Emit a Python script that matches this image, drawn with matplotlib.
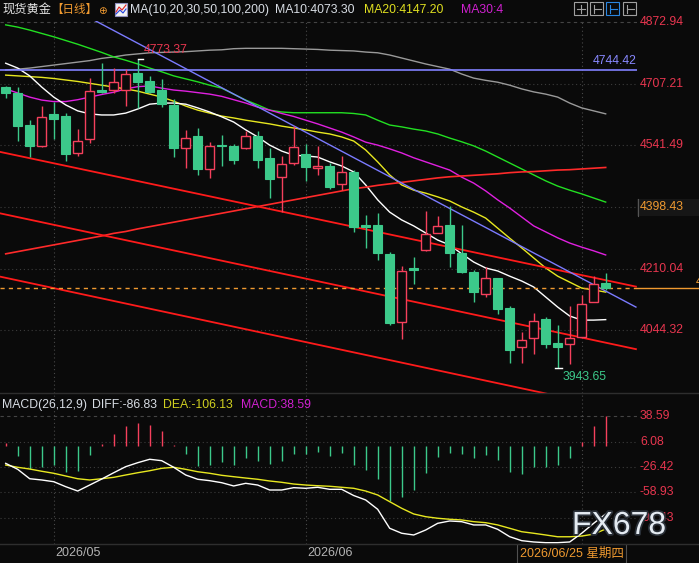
import matplotlib
matplotlib.use('Agg')
import matplotlib.pyplot as plt
from matplotlib.patches import Rectangle
from matplotlib.lines import Line2D
import matplotlib.patheffects as pe
from matplotlib.transforms import blended_transform_factory

plt.rcParams['font.family'] = ['Liberation Sans', 'Noto Sans CJK SC', 'DejaVu Sans']

# daily candles (index 0..50)
opens = [4699, 4682, 4596, 4540, 4626, 4620, 4520, 4558, 4690, 4690,
         4690, 4735, 4714, 4690, 4650, 4533, 4566, 4477, 4541, 4540,
         4533, 4566, 4507, 4457, 4495, 4518, 4481, 4486, 4437, 4470,
         4327, 4327, 4250, 4066, 4212, 4260, 4307, 4327, 4251, 4200,
         4141, 4185, 4104, 3999, 4023, 4075, 4010, 4007, 4027, 4120, 4172]
highs = [4701, 4699, 4609, 4647, 4659, 4627, 4585, 4721, 4762, 4748,
         4746, 4773.37, 4728, 4719, 4665, 4583, 4587, 4550, 4568, 4545,
         4580, 4580, 4533, 4514, 4594, 4545, 4540, 4493, 4514, 4475,
         4354, 4359, 4256, 4217, 4241, 4365, 4352, 4378, 4327, 4207,
         4215, 4186, 4110, 4040, 4092, 4081, 4058, 4110, 4139, 4190, 4199]
lows = [4668, 4554, 4511, 4538, 4558, 4500, 4514, 4547, 4682, 4681,
        4648, 4642, 4681, 4645, 4511, 4480, 4462, 4453, 4487, 4491,
        4532, 4481, 4401, 4363, 4488, 4446, 4462, 4425, 4421, 4309,
        4266, 4233, 4060, 4020, 4168, 4258, 4305, 4215, 4199, 4121,
        4135, 4088, 3956, 3958, 3980, 3998, 3943.65, 3955, 4027, 4120, 4153]
closes = [4681, 4594, 4540, 4617, 4613, 4519, 4553, 4687, 4685, 4711,
          4732, 4712, 4684, 4652, 4535, 4560, 4478, 4539, 4540, 4502,
          4566, 4502, 4452, 4490, 4536, 4482, 4485, 4430, 4469, 4323,
          4323, 4253, 4063, 4204, 4207, 4303, 4325, 4253, 4202, 4148,
          4184, 4103, 3992, 4018, 4070, 4009, 4000, 4024, 4114, 4168, 4157]

ma10 = [4762, 4749, 4728, 4698, 4671, 4650, 4634, 4626, 4623, 4623,
        4628, 4639, 4652, 4655, 4655, 4652, 4642, 4631, 4618, 4604,
        4583, 4564, 4542, 4526, 4515, 4513, 4510, 4497, 4486, 4470,
        4435, 4395, 4362, 4341, 4325, 4306, 4287, 4274, 4250, 4228,
        4212, 4204, 4190, 4177, 4161, 4134, 4107, 4083, 4072, 4072, 4073.3]
ma20 = [4730, 4728, 4726, 4724, 4721, 4717, 4713, 4708, 4703, 4698,
        4693, 4687, 4679, 4671, 4660, 4647, 4636, 4628, 4620, 4615,
        4609, 4604, 4599, 4593, 4588, 4583, 4577, 4572, 4564, 4553,
        4529, 4497, 4462, 4435, 4421, 4413, 4403, 4392, 4376, 4362,
        4346, 4319, 4292, 4266, 4239, 4212, 4190, 4174, 4158, 4153, 4147.2]
ma30 = [4693, 4682, 4671, 4663, 4659, 4659, 4664, 4671, 4678, 4684,
        4693, 4699, 4701, 4695, 4690, 4687, 4683, 4679, 4673, 4664,
        4655, 4644, 4636, 4627, 4619, 4609, 4599, 4588, 4577, 4564,
        4550, 4542, 4532, 4521, 4508, 4497, 4486, 4475, 4456, 4440,
        4419, 4395, 4373, 4349, 4325, 4309, 4293, 4279, 4268, 4258, 4247]
ma50 = [4865, 4859, 4851, 4842, 4833, 4823, 4813, 4802, 4791, 4779,
        4770, 4760, 4749, 4739, 4728, 4720, 4712, 4703, 4695, 4679,
        4663, 4650, 4636, 4631, 4629, 4629, 4629, 4629, 4629, 4627,
        4623, 4609, 4596, 4591, 4585, 4580, 4572, 4561, 4551, 4540,
        4526, 4510, 4494, 4478, 4462, 4446, 4432, 4421, 4411, 4400, 4389]
ma100 = [4744, 4746, 4749, 4753, 4757, 4761, 4765, 4769, 4775, 4779,
         4784, 4787, 4790, 4791, 4792, 4793, 4795, 4797, 4798, 4801,
         4802, 4802, 4802, 4802, 4801, 4800, 4799, 4797, 4796, 4795,
         4792, 4790, 4784, 4776, 4768, 4760, 4753, 4746, 4733, 4722,
         4716, 4711, 4703, 4693, 4685, 4679, 4671, 4655, 4642, 4634, 4626]
ma200 = [4250, 4256, 4262, 4268, 4274, 4280, 4286, 4292, 4298, 4305,
         4310, 4317, 4323, 4329, 4335, 4341, 4347, 4353, 4359, 4365,
         4371, 4377, 4383, 4389, 4395, 4401, 4407, 4413, 4419, 4425,
         4429, 4434, 4438, 4442, 4446, 4450, 4454, 4457, 4459, 4461,
         4463, 4465, 4468, 4470, 4471, 4473, 4475, 4476, 4478, 4480, 4482]

# MACD(26,12,9)
hist = [4.8, -12.0, -29.0, -26.1, -23.5, -32.5, -31.2, -10.7, 3.1, 15.9,
        26.2, 30.1, 27.9, 19.8, 1.5, -9.8, -25.2, -23.5, -19.7, -23.5,
        -14.5, -18.8, -22.6, -18.4, -9.4, -9.8, -6.8, -12.0, -8.1, -23.5,
        -30.3, -41.5, -69.8, -64.6, -56.0, -33.8, -13.2, -8.1, -9.8, -14.5,
        -11.1, -17.1, -32.5, -35.1, -26.1, -26.1, -23.5, -14.5, 6.0, 26.2, 38.59]
diff = [-21.7, -29.4, -41.5, -43.1, -45.3, -51.7, -57.3, -49.6, -41.9, -33.8,
        -26.0, -20.9, -16.5, -18.3, -26.8, -36.7, -42.2, -44.0, -46.6, -50.8,
        -47.4, -49.6, -56.0, -56.0, -53.0, -53.8, -52.5, -55.1, -55.1, -63.1,
        -68.8, -80.8, -105.2, -111.6, -113.8, -107.4, -98.8, -95.8, -96.7, -100.9,
        -100.9, -106.5, -116.0, -121.1, -122.8, -123.7, -123.7, -122.8, -111.6, -98.8, -86.83]
dea = [-23.9, -26.8, -29.0, -31.9, -34.5, -38.0, -41.5, -43.1, -41.5, -39.7,
       -36.7, -33.8, -31.2, -28.1, -26.8, -29.4, -32.5, -34.5, -37.1, -38.9,
       -40.6, -42.2, -44.4, -46.1, -48.3, -49.6, -50.5, -51.2, -52.5, -53.8,
       -57.3, -62.4, -71.0, -79.5, -86.8, -90.3, -92.3, -93.6, -94.5, -96.7,
       -98.0, -100.9, -105.2, -109.6, -111.6, -113.8, -116.1, -116.1, -115.2, -112.7, -106.13]

# drawn lines (start/end as index, price)
red_trends = [((-0.5, 4524), (52.52, 4162)),
              ((-0.5, 4359), (52.52, 3994)),
              ((-0.5, 4189), (52.52, 3823))]
blue_trend = ((7.0, 4884), (52.52, 4107))
blue_level = 4744.42
last_price = 4157

price_grid = [4707.21, 4541.49, 4375.77, 4210.04, 4044.32]
price_labels = [4872.94, 4707.21, 4541.49, 4210.04, 4044.32]
macd_labels = [38.59, 6.08, -26.42, -58.93, -91.43]
month_idx = [4, 25]
month_txt = ['2026/05', '2026/06']
cross_idx = 48

BG = '#0a0a0a'
UP = '#f5405c'
DN = '#3cc98a'
LBL = '#e8364f'
ORG = '#f09a30'
GRID = '#3c3c3c'

W, H = 699, 563
fig = plt.figure(figsize=(W / 100, H / 100), dpi=100, facecolor=BG)
ax = fig.add_axes([0, 1 - 393 / H, 637 / W, (393 - 21) / H], facecolor=BG)
axm = fig.add_axes([0, 1 - 544 / H, 637 / W, (544 - 393) / H], facecolor=BG, sharex=ax)
for a in (ax, axm):
    for s in a.spines.values():
        s.set_visible(False)
    a.set_xticks([])
    a.set_yticks([])

ax.set_xlim(-0.475, 52.61)
ax.set_ylim(3876.2, 4875.4)
axm.set_ylim(-125.4, 68.7)

def ftxt(x, y, s, color, size=8.8, **kw):
    fig.text(x / W, 1 - y / H, s, color=color, fontsize=size, va='center', ha='left', **kw)

# grids
dot = (0, (1, 2.5))
for g in price_grid:
    ax.axhline(g, color=GRID, lw=0.8, ls=dot, zorder=0)
ax.axhline(4872.94, color='#444444', lw=0.8, ls=(0, (3, 3)), zorder=0)
for g in macd_labels[1:]:
    axm.axhline(g, color=GRID, lw=0.8, ls=dot, zorder=0)
axm.axhline(38.59, color='#444444', lw=0.8, ls=(0, (3, 3)), zorder=0)
for a in (ax, axm):
    for m in month_idx + [cross_idx]:
        a.axvline(m, color='#484848', lw=0.8, ls=dot, zorder=0)

# moving averages
x = list(range(len(closes)))
ax.plot(x, ma100, color='#9a9a9a', lw=1.0, zorder=2)
ax.plot(x, ma50, color='#22e022', lw=1.0, zorder=2)
ax.plot(x, ma30, color='#e020e0', lw=1.0, zorder=2)
ax.plot(x, ma20, color='#e8e820', lw=1.0, zorder=2)
ax.plot(x, ma10, color='#ffffff', lw=1.0, zorder=2)
ax.plot(x, ma200, color='#ff2a2a', lw=1.2, zorder=2)

# drawn lines
for (a0, b0) in red_trends:
    ax.plot([a0[0], b0[0]], [a0[1], b0[1]], color='#ff1a1a', lw=1.3, zorder=2)
ax.plot([blue_trend[0][0], blue_trend[1][0]], [blue_trend[0][1], blue_trend[1][1]],
        color='#7b7bff', lw=1.0, zorder=2)
ax.axhline(blue_level, color='#8080ff', lw=1.2, zorder=2)
ax.axhline(last_price, color=ORG, lw=1.0, ls=(0, (3, 3)), zorder=2)
fig.add_artist(Line2D([637 / W, 1], [1 - 288.3 / H] * 2, color=ORG, lw=1.0))

# candles
bw = 0.72
for i in x:
    o, h, l, c = opens[i], highs[i], lows[i], closes[i]
    if c > o:
        ax.vlines(i, l, o, color=UP, lw=1.0, zorder=3)
        ax.vlines(i, c, h, color=UP, lw=1.0, zorder=3)
        ax.add_patch(Rectangle((i - bw / 2, o), bw, c - o, facecolor=BG, edgecolor=UP, lw=1.0, zorder=4))
    else:
        ax.vlines(i, l, h, color=DN, lw=1.0, zorder=3)
        ax.add_patch(Rectangle((i - bw / 2, c), bw, max(o - c, 1.5), facecolor=DN, edgecolor=DN, lw=0.8, zorder=4))

# extreme markers
hi_i = highs.index(max(highs))
lo_i = lows.index(min(lows))
ax.plot([hi_i, hi_i + 0.45], [highs[hi_i], highs[hi_i]], color='white', lw=1.0, zorder=5)
ax.plot([lo_i - 0.2, lo_i + 0.4], [lows[lo_i], lows[lo_i]], color='white', lw=1.0, zorder=5)
ax.text(hi_i + 0.5, highs[hi_i] + 25, f'{max(highs):.2f}', color=LBL, fontsize=8.8, va='center', zorder=6)
ax.text(lo_i + 0.45, lows[lo_i] - 25, f'{min(lows):.2f}', color=DN, fontsize=8.8, va='center', zorder=6)
ax.text(52.55, blue_level + 8, f'{blue_level:.2f}', color='#8888ff', fontsize=8.8, ha='right', va='bottom', zorder=6)

# MACD panel
for i in x:
    axm.vlines(i, 0, hist[i], color=UP if hist[i] > 0 else DN, lw=1.0)
axm.plot(x, dea, color='#e8e820', lw=1.0)
axm.plot(x, diff, color='#ffffff', lw=1.0)

# right axis labels
trp = blended_transform_factory(fig.transFigure, ax.transData)
for v in price_labels:
    ax.text(640 / W, v, f'{v:.2f}', transform=trp, color=LBL, fontsize=8.8, va='center')
trm = blended_transform_factory(fig.transFigure, axm.transData)
for v in macd_labels:
    axm.text(640 / W, v, f'{v:.2f}', transform=trm, color=LBL, fontsize=8.8, va='center')

fig.add_artist(Rectangle((637 / W, 1 - 216 / H), 62 / W, 17 / H, transform=fig.transFigure,
                         facecolor='#161616', edgecolor='none'))
fig.add_artist(Line2D([637.5 / W] * 2, [1 - 216 / H, 1 - 199 / H], color='#555555', lw=0.8))
ftxt(640, 207.5, '4398.43', ORG)
ftxt(696, 282, '4157.12', ORG)

# separators
fig.add_artist(Line2D([0, 1], [1 - 393 / H] * 2, color='#2e2e2e', lw=1.0))
fig.add_artist(Line2D([0, 1], [1 - 544 / H] * 2, color='#2e2e2e', lw=1.0))

# date axis
for m, t in zip(month_idx, month_txt):
    xf = fig.transFigure.inverted().transform(ax.transData.transform((m, 0)))[0]
    fig.text(xf + 2 / W, 1 - 553 / H, t, color='#b4b4b4', fontsize=9, va='center', ha='left')
fig.add_artist(Rectangle((517 / W, 0), 109 / W, 19 / H, transform=fig.transFigure,
                         facecolor=BG, edgecolor='#505050', lw=0.8))
ftxt(520, 553.5, '2026/06/25 星期四', ORG, size=9)

# header
ftxt(2, 10, '现货黄金', '#e6e6e6')
ftxt(51, 10, '【日线】', ORG, size=8.3)
ftxt(98, 11, '⊕', ORG, size=7.5, family='DejaVu Sans')
fig.add_artist(Rectangle((115 / W, 1 - 16 / H), 12 / W, 13 / H, transform=fig.transFigure,
                         facecolor='#f2f2f2', edgecolor='#9090c0', lw=0.8))
fig.add_artist(Line2D([116 / W, 119 / W, 122 / W, 126 / W], [1 - 12 / H, 1 - 7 / H, 1 - 10 / H, 1 - 5 / H],
                      color='#e02020', lw=0.8))
fig.add_artist(Line2D([116 / W, 120 / W, 123 / W, 126 / W], [1 - 14 / H, 1 - 10 / H, 1 - 13 / H, 1 - 9 / H],
                      color='#2040e0', lw=0.8))
ftxt(130, 10, 'MA(10,20,30,50,100,200)', '#d8dde4')
ftxt(275, 10, 'MA10:4073.30', '#d8dde4')
ftxt(364, 10, 'MA20:4147.20', '#e0e020')
ftxt(461, 10, 'MA30:4', '#d020d0')

for k, bx in enumerate([574, 590, 606, 623]):
    col = '#2a86e0' if k == 2 else '#a0a0a0'
    fig.add_artist(Rectangle((bx / W, 1 - 15 / H), 13 / W, 13 / H, transform=fig.transFigure,
                             facecolor=BG, edgecolor=col, lw=0.8))
    cx, cy = (bx + 6.5) / W, 1 - 8.5 / H
    if k == 0:
        fig.add_artist(Line2D([cx - 4 / W, cx + 4 / W], [cy, cy], color=col, lw=0.8))
        fig.add_artist(Line2D([cx, cx], [cy - 4 / H, cy + 4 / H], color=col, lw=0.8))
    else:
        fig.add_artist(Line2D([cx - 3 / W, cx - 3 / W], [cy - 4 / H, cy + 4 / H], color=col, lw=0.8))
        fig.add_artist(Line2D([cx - 3 / W, cx + 4 / W], [cy, cy], color=col, lw=0.8))

ftxt(2, 405, 'MACD(26,12,9)', '#d8dde4')
ftxt(92, 405, 'DIFF:-86.83', '#d8dde4')
ftxt(163, 405, 'DEA:-106.13', '#d0d020')
ftxt(241, 405, 'MACD:38.59', '#d020d0')

# watermark
fig.text(572 / W, 1 - 526 / H, 'FX678', color='#e4ebf2', fontsize=23, va='center', ha='left',
         path_effects=[pe.withStroke(linewidth=2.5, foreground='#2a3038')])

fig.savefig('out.png', dpi=100, facecolor=BG)
